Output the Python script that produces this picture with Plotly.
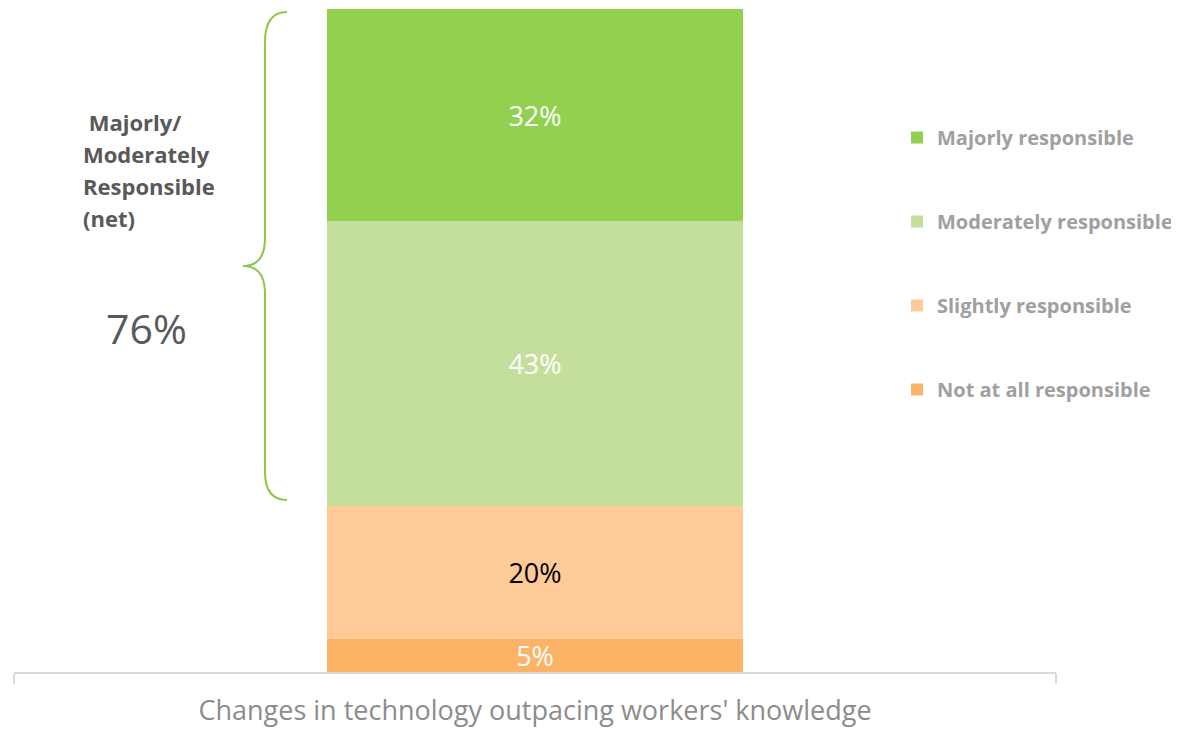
import plotly.graph_objects as go

# ---- data ----
category = ["Changes in technology outpacing workers' knowledge"]
series_names = ["Not at all responsible", "Slightly responsible",
                "Moderately responsible", "Majorly responsible"]
series_values = [5, 20, 43, 32]
series_colors = ["#FDB366", "#FECB98", "#C4DF9B", "#92D050"]
label_colors = ["white", "black", "white", "white"]
net_label_lines = [" Majorly/", "Moderately", "Responsible", "(net)"]
net_value = 76

OFF = 8  # browser body margin
W, H = 1179 - OFF, 730 - OFF
# desired screen-space plot area: x 14..1056, y 9..672
SX0, SX1, SY0, SY1 = 14, 1056, 9, 672
ML, MT = SX0 - OFF, SY0 - OFF
MR, MB = OFF + W - SX1, OFF + H - SY1
PW, PH = SX1 - SX0, SY1 - SY0


def px(x):
    return (x - SX0) / PW


def py(y):
    return (SY1 - y) / PH


fig = go.Figure()
n = len(series_names)
for i, (name, val, col, lc) in enumerate(zip(series_names, series_values, series_colors, label_colors)):
    fig.add_trace(go.Bar(
        x=category, y=[val], name=name, legendgroup=name, legendrank=n - i,
        marker=dict(color=col, line=dict(width=0)),
        texttemplate="%{y}%", textposition="inside", insidetextanchor="middle",
        constraintext="none",
        textfont=dict(color=lc, size=27, family="Open Sans"),
        hoverinfo="skip",
    ))

# brace
p = [(287, 12), (265, 12), (265, 42), (265, 238), (265, 266), (243, 266),
     (265, 266), (265, 294), (265, 472), (265, 500), (287, 500)]
pp = [(px(a), py(b)) for a, b in p]
path = (f"M{pp[0][0]},{pp[0][1]} Q{pp[1][0]},{pp[1][1]} {pp[2][0]},{pp[2][1]} "
        f"L{pp[3][0]},{pp[3][1]} Q{pp[4][0]},{pp[4][1]} {pp[5][0]},{pp[5][1]} "
        f"Q{pp[6][0]},{pp[6][1]} {pp[7][0]},{pp[7][1]} L{pp[8][0]},{pp[8][1]} "
        f"Q{pp[9][0]},{pp[9][1]} {pp[10][0]},{pp[10][1]}")
fig.add_shape(type="path", path=path, xref="paper", yref="paper",
              line=dict(color="#8CC84B", width=2))

for i, line in enumerate(net_label_lines):
    fig.add_annotation(text=line.replace(" ", "&nbsp;"), x=px(81), y=py(122 + 32 * i),
                       xref="paper", yref="paper", xanchor="left", yanchor="middle",
                       showarrow=False,
                       font=dict(family="Open Sans", size=22, color="#595959", weight="bold"))
fig.add_annotation(text=f"{net_value}%", x=px(146), y=py(328), xref="paper", yref="paper",
                   xanchor="center", yanchor="middle", showarrow=False,
                   font=dict(family="Open Sans", size=41, color="#595959"))

fig.update_layout(
    width=W, height=H,
    margin=dict(l=ML, r=MR, t=MT, b=MB, autoexpand=False),
    paper_bgcolor="white", plot_bgcolor="white",
    barmode="stack", bargap=0.6,
    showlegend=True,
    legend=dict(x=px(897), y=py(118), xanchor="left", yanchor="top",
                traceorder="grouped", tracegroupgap=55,
                font=dict(family="Open Sans", size=20, color="#A0A0A0", weight="bold"),
                bgcolor="rgba(0,0,0,0)"),
    xaxis=dict(type="category", showline=True, linecolor="#D9D9D9", linewidth=2,
               ticks="outside", tickson="boundaries", ticklen=10, tickcolor="#D9D9D9",
               tickwidth=2, showgrid=False, zeroline=False,
               tickfont=dict(family="Open Sans", size=27, color="#8C8C8C"),
               ticklabelstandoff=14, fixedrange=True),
    yaxis=dict(range=[0, 100], visible=False, showgrid=False, zeroline=False, fixedrange=True),
)

fig.write_html("out.html")
